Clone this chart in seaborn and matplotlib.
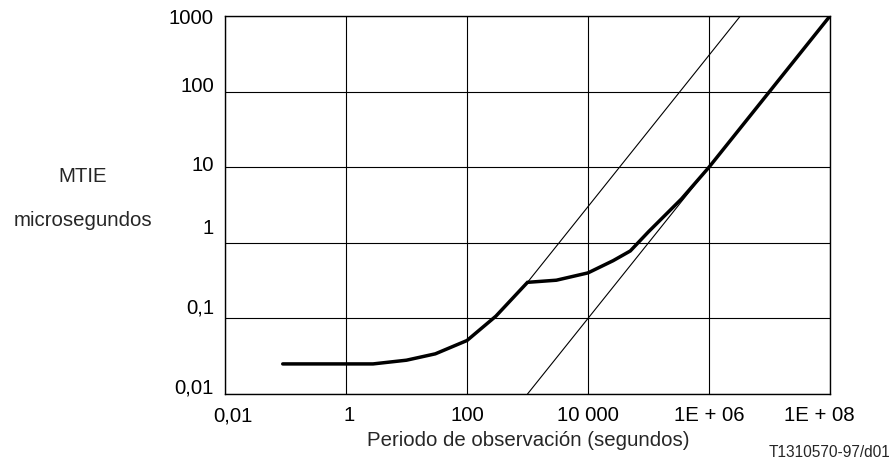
import matplotlib
matplotlib.use("Agg")
import matplotlib.pyplot as plt
from matplotlib.transforms import ScaledTranslation
import numpy as np
import pandas as pd
import seaborn as sns

# ---- data ----
tau_mask = [0.09, 2.8, 10, 30, 100, 300, 1000, 3000, 1e4, 2.6e4, 5e4, 1e5, 3.5e5, 1e6, 1e8]
mtie_mask = [0.025, 0.025, 0.028, 0.034, 0.051, 0.107, 0.30, 0.32, 0.40, 0.58, 0.78, 1.4, 3.8, 10, 1000]

tau_line1 = [1000, 3.3e6]
mtie_line1 = [0.3, 1000]

tau_line2 = [1000, 1e8]
mtie_line2 = [0.01, 1000]

x_ticks = [0.01, 1, 100, 1e4, 1e6, 1e8]
x_ticklabels = ["0,01", "1", "100", "10 000", "1E + 06", "1E + 08"]
y_ticks = [0.01, 0.1, 1, 10, 100, 1000]
y_ticklabels = ["0,01", "0,1", "1", "10", "100", "1000"]

# ---- style ----
sns.set_style("white")
plt.rcParams["font.family"] = ["Liberation Sans", "DejaVu Sans"]
FS = 14.7

fig = plt.figure(figsize=(8.92, 4.64), dpi=100)
ax = fig.add_axes([225 / 892, 69 / 464, 605 / 892, 378 / 464])

df_mask = pd.DataFrame({"tau": tau_mask, "mtie": mtie_mask})
df_l1 = pd.DataFrame({"tau": tau_line1, "mtie": mtie_line1})
df_l2 = pd.DataFrame({"tau": tau_line2, "mtie": mtie_line2})

sns.lineplot(data=df_l1, x="tau", y="mtie", color="black", lw=0.8,
             sort=False, estimator=None, ax=ax)
sns.lineplot(data=df_l2, x="tau", y="mtie", color="black", lw=0.8,
             sort=False, estimator=None, ax=ax)
sns.lineplot(data=df_mask, x="tau", y="mtie", color="black", lw=2.5,
             sort=False, estimator=None, ax=ax, solid_joinstyle="miter")

ax.set_xscale("log")
ax.set_yscale("log")
ax.set_xlim(0.01, 1e8)
ax.set_ylim(0.01, 1000)

ax.set_xticks(x_ticks)
ax.set_xticklabels(x_ticklabels)
ax.set_yticks(y_ticks)
ax.set_yticklabels(y_ticklabels)
ax.minorticks_off()
ax.tick_params(axis="both", length=0, labelsize=FS, colors="black")
ax.tick_params(axis="x", pad=8)
ax.tick_params(axis="y", pad=8)

# y tick labels sit slightly above their grid lines in the reference
y_offsets_px = [9, 13, 17, 5, 8, 0]
for lab, dy in zip(ax.get_yticklabels(), y_offsets_px):
    lab.set_transform(lab.get_transform() + ScaledTranslation(0, dy / 100, fig.dpi_scale_trans))
# outer x tick labels are nudged inward
x_offsets_px = [8, 3, 0, 0, 0, -11]
for lab, dx in zip(ax.get_xticklabels(), x_offsets_px):
    lab.set_transform(lab.get_transform() + ScaledTranslation(dx / 100, 0, fig.dpi_scale_trans))

ax.grid(True, which="major", color="black", lw=0.8)
for sp in ax.spines.values():
    sp.set_visible(True)
    sp.set_color("black")
    sp.set_linewidth(1.0)

ax.set_xlabel("")
ax.set_ylabel("")

fig.text(83 / 892, 1 - 177 / 464, "MTIE", ha="center", va="center", fontsize=FS)
fig.text(83 / 892, 1 - 221 / 464, "microsegundos", ha="center", va="center", fontsize=FS)
fig.text(528 / 892, 1 - 441 / 464, "Periodo de observación (segundos)",
         ha="center", va="center", fontsize=FS)
fig.text(890 / 892, 1 - 457 / 464, "T1310570-97/d01", ha="right", va="baseline", fontsize=11.2)

fig.savefig("out.png", dpi=100, facecolor="white")
